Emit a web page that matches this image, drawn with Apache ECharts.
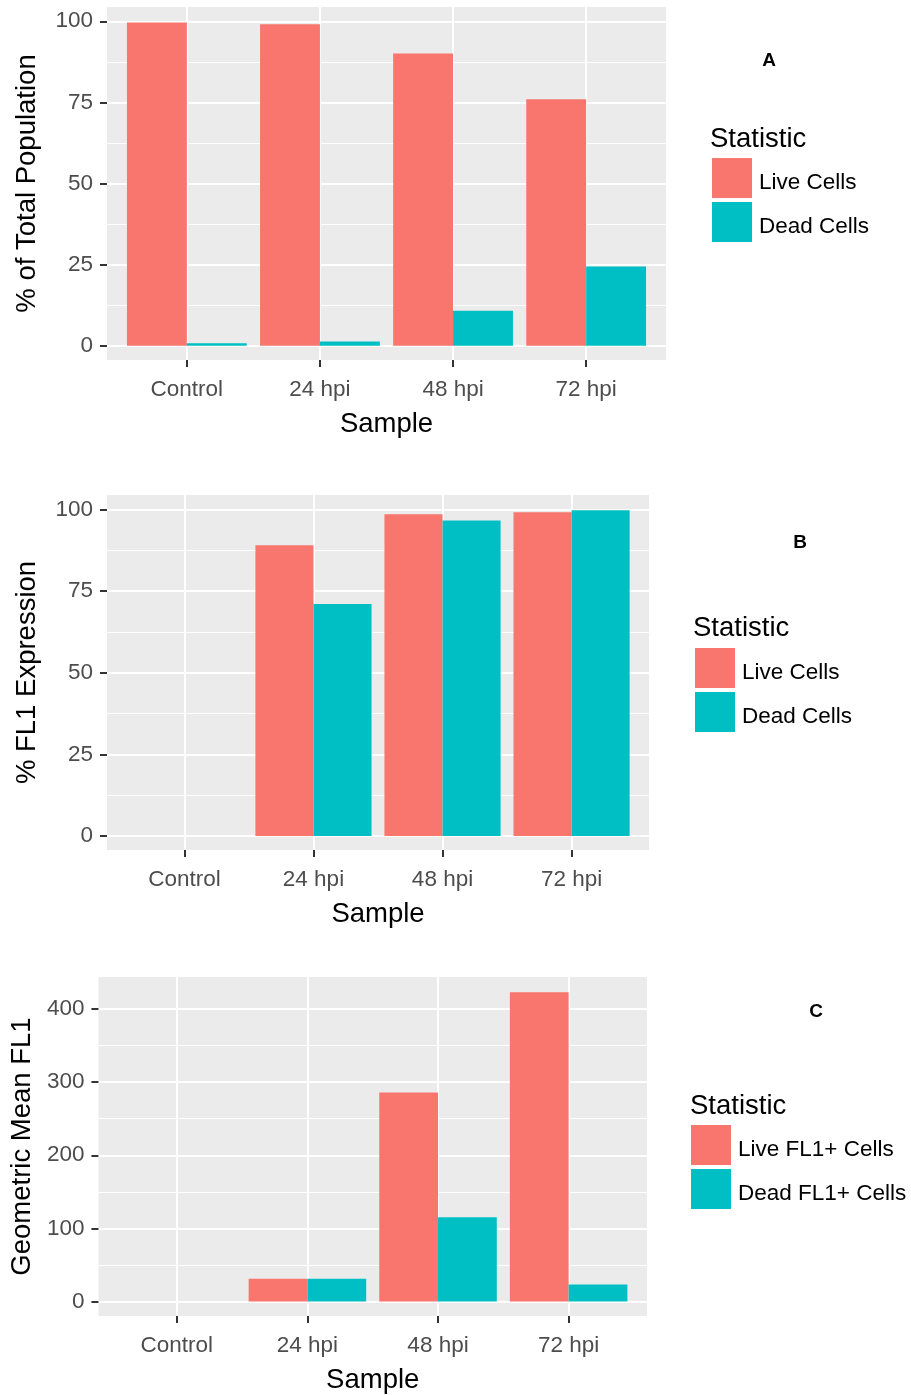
<!DOCTYPE html>
<html>
<head>
<meta charset="utf-8">
<script src="https://cdn.jsdelivr.net/npm/echarts@6/dist/echarts.min.js"></script>
<style>
  html, body { margin: 0; padding: 0; background: #ffffff; }
  #chart { width: 911px; height: 1395px; }
</style>
</head>
<body>
<div id="chart"></div>
<script>
// Samples along the x axis
const categories = ['Control', '24 hpi', '48 hpi', '72 hpi'];

// Panel A: % of total population
const liveA = [99.6, 99.1, 90.1, 76.0];
const deadA = [0.8, 1.3, 10.8, 24.4];

// Panel B: % FL1 expression
const liveB = [0, 89.0, 98.5, 99.1];
const deadB = [0, 71.0, 96.6, 99.7];

// Panel C: geometric mean FL1
const liveC = [0, 31, 286, 423];
const deadC = [0, 31, 115, 23];

// Tick labels
const pctTicks = [0, 25, 50, 75, 100];
const meanTicks = [0, 100, 200, 300, 400];
const catTicks = [1, 2, 3, 4];

const LIVE = '#F8766D';
const DEAD = '#00BFC4';
const FONT = '"Liberation Sans", Arial, sans-serif';

const toPoints = vals => vals.map((v, i) => [i + 1, v]);

function grid(left, top, width, height) {
  return { left, top, width, height, show: true, backgroundColor: '#EBEBEB', borderWidth: 0 };
}

function xAxis(idx) {
  return {
    type: 'value', gridIndex: idx, min: 0.4, max: 4.6,
    minInterval: 1, maxInterval: 1,
    axisLine: { show: false, onZero: false },
    axisTick: { show: true, length: 7, lineStyle: { color: '#333333', width: 2 }, customValues: catTicks },
    axisLabel: {
      customValues: catTicks,
      margin: 18, fontSize: 22.5, color: '#4D4D4D', fontFamily: FONT,
      formatter: v => (Number.isInteger(v) && v >= 1 && v <= categories.length) ? categories[v - 1] : ''
    },
    splitLine: { show: true, lineStyle: { color: '#ffffff', width: 2 } },
    name: 'Sample', nameLocation: 'middle', nameGap: 50,
    nameTextStyle: { fontSize: 27.5, color: '#000000', fontFamily: FONT }
  };
}

function yAxis(idx, min, max, step, ticks, name, nameGap) {
  return {
    type: 'value', gridIndex: idx, min, max,
    minInterval: step, maxInterval: step,
    axisLine: { show: false, onZero: false },
    axisTick: { show: true, length: 7, lineStyle: { color: '#333333', width: 2 }, customValues: ticks },
    axisLabel: {
      customValues: ticks,
      margin: 14, fontSize: 22.5, color: '#4D4D4D', fontFamily: FONT
    },
    splitLine: { show: true, lineStyle: { color: '#ffffff', width: 2 } },
    minorTick: { show: false, splitNumber: 2 },
    minorSplitLine: { show: true, lineStyle: { color: '#ffffff', width: 1.2 } },
    name, nameLocation: 'middle', nameGap,
    nameTextStyle: { fontSize: 27.5, color: '#000000', fontFamily: FONT }
  };
}

function bar(name, idx, vals, color) {
  return {
    type: 'bar', name, xAxisIndex: idx, yAxisIndex: idx,
    data: toPoints(vals), barGap: '0%', barCategoryGap: '10%',
    itemStyle: { color }, silent: true
  };
}

function legend(names, left, top) {
  return {
    orient: 'vertical', left, top, padding: 0,
    itemWidth: 40, itemHeight: 40, itemGap: 4, icon: 'rect',
    selectedMode: false, data: names,
    formatter: n => '{t|' + n + '}',
    textStyle: {
      fontSize: 22.5, color: '#000000', fontFamily: FONT,
      rich: { t: { fontSize: 22.5, color: '#000000', fontFamily: FONT, padding: [10, 0, 0, 2] } }
    }
  };
}

function label(text, x, y, size, weight) {
  return {
    type: 'text', x, y, silent: true,
    style: { text, fontSize: size, fontWeight: weight, fontFamily: FONT, fill: '#000000', align: 'left', verticalAlign: 'middle' }
  };
}

function letter(text, x, y) {
  return {
    type: 'text', x, y, silent: true,
    style: { text, fontSize: 19, fontWeight: 'bold', fontFamily: FONT, fill: '#000000', align: 'center', verticalAlign: 'middle' }
  };
}

const chart = echarts.init(document.getElementById('chart'));
chart.setOption({
  animation: false,
  textStyle: { fontFamily: FONT },
  grid: [
    grid(107, 7, 559, 353),
    grid(107, 495, 542, 355),
    grid(97, 977, 550, 344)
  ],
  xAxis: [xAxis(0), xAxis(1), xAxis(2)],
  yAxis: [
    yAxis(0, -4.4, 104.4, 25, pctTicks, '% of Total Population', 66),
    yAxis(1, -4.3, 104.4, 25, pctTicks, '% FL1 Expression', 66),
    yAxis(2, -20, 444, 100, meanTicks, 'Geometric Mean FL1', 57)
  ],
  legend: [
    legend(['Live Cells', 'Dead Cells'], 712, 158),
    legend(['Live Cells', 'Dead Cells'], 695, 648),
    legend(['Live FL1+ Cells', 'Dead FL1+ Cells'], 691, 1125)
  ],
  series: [
    bar('Live Cells', 0, liveA, LIVE),
    bar('Dead Cells', 0, deadA, DEAD),
    bar('Live Cells', 1, liveB, LIVE),
    bar('Dead Cells', 1, deadB, DEAD),
    bar('Live FL1+ Cells', 2, liveC, LIVE),
    bar('Dead FL1+ Cells', 2, deadC, DEAD)
  ],
  graphic: [
    label('Statistic', 710, 139, 27.5, 'normal'),
    label('Statistic', 693, 628, 27.5, 'normal'),
    label('Statistic', 690, 1106, 27.5, 'normal'),
    letter('A', 769, 61),
    letter('B', 800, 543),
    letter('C', 816, 1012)
  ]
});
</script>
</body>
</html>
